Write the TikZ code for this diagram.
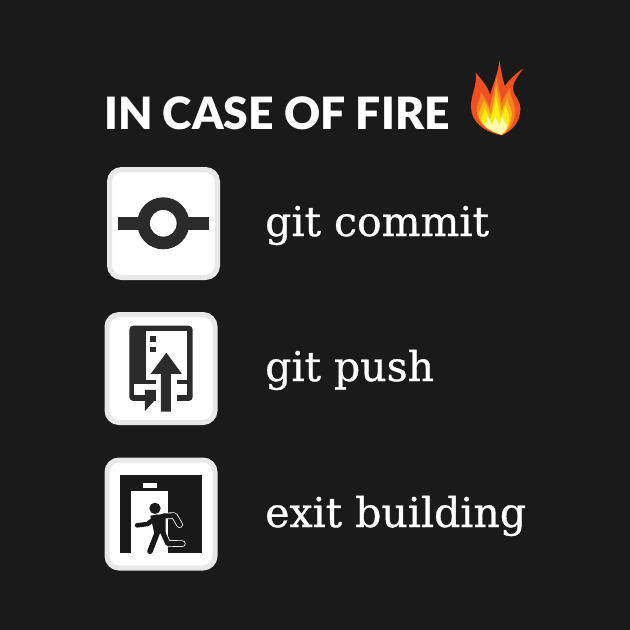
\documentclass[tikz,border=0pt]{standalone}
\usepackage{fontspec}
\setmainfont{DejaVu Serif}[FakeBold=0.8]
\newfontfamily\titlefont{Lato Black}
\usepackage{tikz}
\usetikzlibrary{positioning}
\definecolor{bgdark}{HTML}{1A1A1A}
\definecolor{icondark}{HTML}{2B2B2B}
\definecolor{edgegrey}{HTML}{E8E8E8}
\definecolor{flameA}{HTML}{F04E23}
\definecolor{flameB}{HTML}{F58220}
\definecolor{flameC}{HTML}{FDB913}
\definecolor{flameD}{HTML}{F7EC13}
\definecolor{flameE}{HTML}{FFFBB0}
\tikzstyle{iconbox}=[rectangle, rounded corners=12pt, draw=edgegrey, fill=white, line width=5pt, minimum size=108pt, inner sep=0pt]
\tikzstyle{headline}=[anchor=base west, text=white, inner sep=0pt, font=\titlefont\fontsize{44.5}{45}\selectfont]
\tikzstyle{stepline}=[anchor=base west, text=white, inner sep=0pt, font=\fontsize{41}{42}\selectfont]
\tikzstyle{limb}=[line cap=round, line join=round]

\begin{document}
\begin{tikzpicture}[x=1pt, y=-1pt]
        \fill[bgdark] (0,0) rectangle (630,630);
        \useasboundingbox (0,0) rectangle (630,630);

        \node[headline] (title) at (104,129) {IN CASE OF FIRE};
        \node[stepline] (commit) at (265,236) {git commit};
        \node[stepline] (push) at (265,381) {git push};
        \node[stepline] (exit) at (265,527) {exit building};

        \node[iconbox] (commitbox) at (163.5,223.5) {};
        \node[iconbox] (pushbox) at (161,368.5) {};
        \node[iconbox] (exitbox) at (161,514) {};

        % commit icon
        \fill[icondark] (117.7,216.7) rectangle (209,230);
        \fill[icondark] (163.3,223.3) circle (26);
        \fill[white] (163.3,223.3) circle (13.3);

        % push icon, in zoomed units
        \begin{scope}[shift={(95,305)}, x=0.3333pt, y=-0.3333pt]
          \fill[icondark, rounded corners=4pt] (103,62) rectangle (293,288);
          \fill[white] (152,78) rectangle (277,224);
          \fill[white] (118,238) rectangle (183,270);
          \fill[white] (245,238) rectangle (277,270);
          \fill[white] (183,205) rectangle (245,290);
          \fill[icondark] (183,224) rectangle (152,238);
          \fill[icondark] (245,224) rectangle (277,238);
          \fill[white] (100,288) rectangle (150,292);
          \fill[icondark] (150,255) -- (183,255) -- (183,282) -- (150,318) -- cycle;
          \fill[icondark] (167,207) -- (214,143) -- (261,207) -- (228,207)
                -- (228,320) -- (198,320) -- (198,207) -- cycle;
          \fill[icondark] (166,94) rectangle (182,110);
          \fill[icondark] (166,126) rectangle (182,142);
        \end{scope}

        % exit icon, in zoomed units
        \begin{scope}[shift={(95,450)}, x=0.3333pt, y=-0.3333pt]
          \fill[black!90] (75,76) rectangle (322,310);
          \fill[white] (108,124) rectangle (220,310);
          \fill[white] (145,98) rectangle (186,114);
          \draw[limb, white, line width=6.6pt] (205,198) -- (238,197) -- (254,224);
          \draw[limb, white, line width=6.6pt] (200,240) -- (218,280) -- (262,281);
          \draw[limb, black!90, line width=5pt] (205,198) -- (238,197) -- (254,224);
          \draw[limb, black!90, line width=5pt] (200,240) -- (218,280) -- (262,281);
          \draw[limb, black!90, line width=4.5pt] (126,226) -- (158,222) -- (185,200);
          \draw[limb, black!90, line width=5.5pt] (188,245) -- (165,304);
          \fill[black!90] (166,197) -- (212,191) -- (212,250) -- (178,250) -- cycle;
          \fill[black!90] (180,175) circle (17);
        \end{scope}

        % flame, in zoomed units
        \begin{scope}[shift={(460,50)}, x=0.3333pt, y=-0.3333pt]
          \fill[flameA] (125,256) .. controls (70,245) and (33,215) .. (33,170)
                .. controls (33,130) and (52,110) .. (47,68)
                .. controls (65,90) and (85,110) .. (90,135)
                .. controls (100,100) and (115,70) .. (118,30)
                .. controls (123,60) and (128,90) .. (135,108)
                .. controls (150,85) and (170,70) .. (190,55)
                .. controls (165,90) and (150,110) .. (165,135)
                .. controls (178,155) and (185,170) .. (180,190)
                .. controls (175,225) and (150,245) .. (125,256) -- cycle;
          \fill[flameB] (125,254) .. controls (85,245) and (52,220) .. (50,185)
                .. controls (48,165) and (62,150) .. (62,125)
                .. controls (72,140) and (85,155) .. (88,175)
                .. controls (95,140) and (108,110) .. (108,75)
                .. controls (112,105) and (122,130) .. (125,160)
                .. controls (130,140) and (142,130) .. (150,115)
                .. controls (148,140) and (168,160) .. (165,190)
                .. controls (162,225) and (145,245) .. (125,254) -- cycle;
          \fill[flameC] (125,254) .. controls (95,245) and (58,225) .. (56,195)
                .. controls (55,180) and (68,170) .. (72,150)
                .. controls (80,165) and (88,180) .. (92,195)
                .. controls (98,170) and (105,140) .. (108,105)
                .. controls (112,130) and (122,165) .. (125,185)
                .. controls (130,170) and (138,160) .. (142,145)
                .. controls (145,165) and (158,175) .. (155,200)
                .. controls (150,230) and (140,245) .. (125,254) -- cycle;
          \fill[flameD] (125,254) .. controls (100,248) and (65,232) .. (63,205)
                .. controls (70,195) and (72,185) .. (74,175)
                .. controls (80,185) and (88,200) .. (90,210)
                .. controls (98,190) and (105,165) .. (107,138)
                .. controls (112,160) and (118,180) .. (122,205)
                .. controls (128,195) and (135,175) .. (136,165)
                .. controls (140,180) and (150,190) .. (148,210)
                .. controls (145,230) and (138,245) .. (125,254) -- cycle;
          \fill[flameE] (125,254) .. controls (108,248) and (82,238) .. (74,226)
                .. controls (80,218) and (84,208) .. (84,198)
                .. controls (88,206) and (92,218) .. (94,226)
                .. controls (99,218) and (103,210) .. (106,202)
                .. controls (110,210) and (115,218) .. (118,226)
                .. controls (122,218) and (125,208) .. (126,198)
                .. controls (130,210) and (136,218) .. (142,226)
                .. controls (140,238) and (133,248) .. (125,254) -- cycle;
        \end{scope}
\end{tikzpicture}
\end{document}
